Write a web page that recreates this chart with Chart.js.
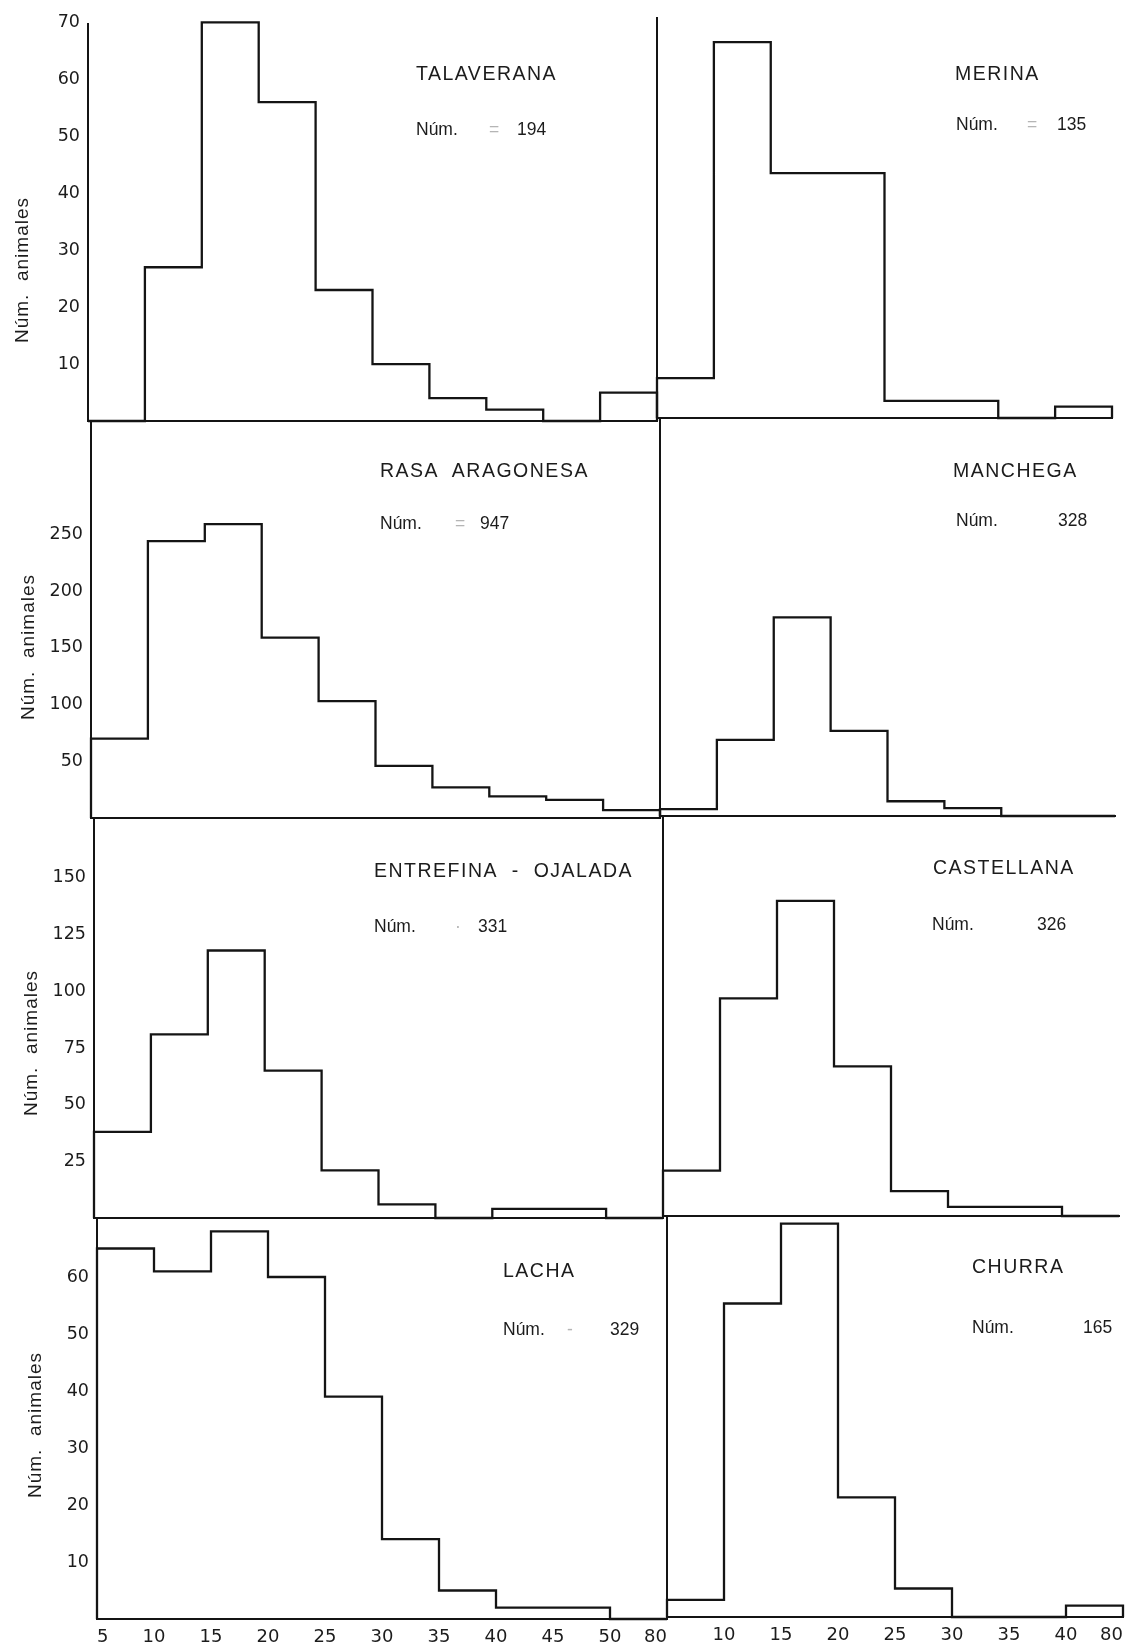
<!DOCTYPE html>
<html><head><meta charset="utf-8">
<script src="https://cdn.jsdelivr.net/npm/chart.js@4.4.1/dist/chart.umd.min.js"></script>
<style>
html,body{margin:0;padding:0;background:#fff;}
#page{position:relative;width:1132px;height:1644px;overflow:hidden;background:#fff;font-family:'Liberation Sans',Arial,sans-serif;color:#1c1c1c;}
canvas{position:absolute;}
.t{position:absolute;white-space:nowrap;font-size:19.5px;line-height:19.5px;letter-spacing:1.5px;}
.n{position:absolute;white-space:nowrap;font-size:17.5px;line-height:17.5px;}
.eq{color:#b5b5b5;}
.yt{position:absolute;white-space:nowrap;font-size:19px;line-height:19px;letter-spacing:1px;transform:translate(-50%,-50%) rotate(-90deg);}
</style></head><body><div id="page"></div>
<script>
// ---------- data ----------
const leftEdges  = ['5','10','15','20','25','30','35','40','45','50','80'];
const rightEdges = ['5','10','15','20','25','30','35','40','80'];
const breeds = ['TALAVERANA','MERINA','RASA\u00a0 ARAGONESA','MANCHEGA','ENTREFINA\u00a0 - \u00a0OJALADA','CASTELLANA','LACHA','CHURRA'];
const totals = ['194','135','947','328','331','326','329','165'];
const eqMarks = ['=','=','=','','\u00b7','','-',''];
const talaverana       = [0, 27, 70, 56, 23, 10, 4, 2, 0, 5];
const merina           = [7, 66, 43, 43, 3, 3, 0, 2];
const rasaAragonesa    = [70, 244, 259, 159, 103, 46, 27, 19, 16, 7];
const manchega         = [6, 67, 175, 75, 13, 7, 0, 0];
const entrefinaOjalada = [38, 81, 118, 65, 21, 6, 0, 4, 4, 0];
const castellana       = [20, 96, 139, 66, 11, 4, 4, 0];
const lacha            = [65, 61, 68, 60, 39, 14, 5, 2, 2, 0];
const churra           = [3, 55, 69, 21, 5, 0, 0, 2];
const yTickLabels = [
  [10, 20, 30, 40, 50, 60, 70],
  [50, 100, 150, 200, 250],
  [25, 50, 75, 100, 125, 150],
  [10, 20, 30, 40, 50, 60]
];
const yAxisTitle = 'Núm.\u00a0 animales';

// ---------- layout (positions / sizes only) ----------
const layout = [
  {x0:88,  x1:657,  top:24,   bottom:421,  k:5.695, title:[416,73],   num:[416,129],  valX:517,  eqX:489},
  {x0:657, x1:1112, top:18,   bottom:418,  k:5.695, title:[955,73],   num:[956,124],  valX:1057, eqX:1027},
  {x0:91,  x1:660,  top:421,  bottom:818,  k:1.135, title:[380,470],  num:[380,523],  valX:480,  eqX:455},
  {x0:660, x1:1115, top:418,  bottom:816,  k:1.135, title:[953,470],  num:[956,520],  valX:1058, eqX:1027},
  {x0:94,  x1:663,  top:818,  bottom:1218, k:2.267, title:[374,870],  num:[374,926],  valX:478,  eqX:455},
  {x0:663, x1:1119, top:816,  bottom:1216, k:2.267, title:[933,867],  num:[932,924],  valX:1037, eqX:1005},
  {x0:97,  x1:667,  top:1218, bottom:1619, k:5.7,   title:[503,1270], num:[503,1329], valX:610,  eqX:567},
  {x0:667, x1:1123, top:1216, bottom:1617, k:5.7,   title:[972,1266], num:[972,1327], valX:1083, eqX:1050}
];
const yTitlePos = [[20.5,270],[27,647],[30,1043],[34,1425]];

const series = [talaverana, merina, rasaAragonesa, manchega, entrefinaOjalada, castellana, lacha, churra];
const INK = '#141414';
const TICK_FONT = "'DejaVu Sans', 'Liberation Sans', sans-serif";
const PAD_T = 28, PAD_R = 18, YW_L = 80, YW_R = 10, XH = 34;
const page = document.getElementById('page');

function stepPoints(vals){
  const pts = [{x:0, y:0}];
  vals.forEach((v, i) => pts.push({x:i, y:v}));
  pts.push({x:vals.length, y:vals[vals.length-1]});
  pts.push({x:vals.length, y:0});
  return pts;
}

layout.forEach((p, i) => {
  const isLeft = i % 2 === 0;
  const row = Math.floor(i / 2);
  const bottomRow = row === 3;
  const vals = series[i];
  const edges = isLeft ? leftEdges : rightEdges;
  const yw = isLeft ? YW_L : YW_R;
  const padB = bottomRow ? 0 : 28;
  const xh = bottomRow ? XH : 0;
  const w = Math.round(p.x1 - p.x0 + yw + PAD_R);
  const h = Math.round(p.bottom - p.top + PAD_T + padB + xh);
  const cv = document.createElement('canvas');
  cv.width = w; cv.height = h;
  cv.style.left = (p.x0 - yw) + 'px';
  cv.style.top = (p.top - PAD_T) + 'px';
  cv.style.width = w + 'px'; cv.style.height = h + 'px';
  page.appendChild(cv);
  const ticksShown = yTickLabels[row];
  const yMax = (p.bottom - p.top) / p.k;
  new Chart(cv, {
    type: 'line',
    data: { datasets: [{
      data: stepPoints(vals), stepped: 'before', borderColor: INK, borderWidth: 2.3,
      pointRadius: 0, fill: false, clip: false, tension: 0, borderJoinStyle: 'miter'
    }]},
    options: {
      responsive: false, animation: false, devicePixelRatio: 1, events: [],
      layout: { padding: { top: PAD_T, right: PAD_R, bottom: padB, left: 0 } },
      plugins: { legend: {display:false}, tooltip: {enabled:false}, title: {display:false} },
      scales: {
        x: {
          type: 'linear', min: 0, max: vals.length,
          grid: { display:false, drawTicks:false },
          border: { display:true, color: INK, width: 2 },
          ticks: bottomRow ? {
            display: true, stepSize: 1, autoSkip: false, maxRotation: 0, minRotation: 0,
            align: 'inner', padding: 8, color: '#1c1c1c', font: { family: TICK_FONT, size: 18 },
            callback: v => (isLeft || v !== 0) ? edges[v] : ''
          } : { display: false },
          afterFit: s => { s.height = xh; }
        },
        y: {
          type: 'linear', min: 0, max: yMax,
          grid: { display:false, drawTicks:false },
          border: { display:true, color: INK, width: 2 },
          ticks: isLeft ? {
            autoSkip: false, padding: 8, color: '#1c1c1c', font: { family: TICK_FONT, size: 17.5 },
            callback: v => String(v)
          } : { display: false },
          afterBuildTicks: s => { if (isLeft) s.ticks = ticksShown.map(v => ({ value: v })); },
          afterFit: s => { s.width = yw; }
        }
      }
    }
  });

  // titles
  const t = document.createElement('div');
  t.className = 't'; t.textContent = breeds[i];
  t.style.left = p.title[0] + 'px'; t.style.top = (p.title[1] - 9.5) + 'px';
  page.appendChild(t);
  const n = document.createElement('div');
  n.className = 'n'; n.textContent = 'Núm.';
  n.style.left = p.num[0] + 'px'; n.style.top = (p.num[1] - 8.5) + 'px';
  page.appendChild(n);
  if (eqMarks[i]) {
    const e = document.createElement('div');
    e.className = 'n eq'; e.textContent = eqMarks[i];
    e.style.left = p.eqX + 'px'; e.style.top = (p.num[1] - 8.5) + 'px';
    page.appendChild(e);
  }
  const v = document.createElement('div');
  v.className = 'n'; v.textContent = totals[i];
  v.style.left = p.valX + 'px'; v.style.top = (p.num[1] - 8.5) + 'px';
  page.appendChild(v);
});

yTitlePos.forEach(([cx, cy]) => {
  const d = document.createElement('div');
  d.className = 'yt'; d.textContent = yAxisTitle;
  d.style.left = cx + 'px'; d.style.top = cy + 'px';
  page.appendChild(d);
});
</script></body></html>
